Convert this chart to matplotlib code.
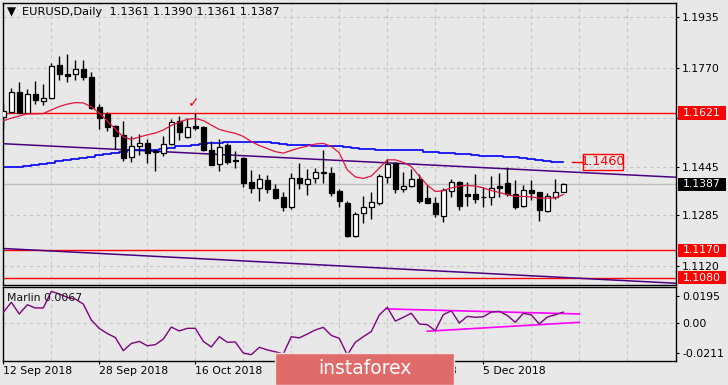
import numpy as np
import matplotlib.pyplot as plt
from matplotlib.patches import Rectangle
from matplotlib import transforms

plt.rcParams['font.family'] = 'DejaVu Sans'

W, H = 728, 385
BG = '#e8e8e8'
FS = 7.8

# EURUSD daily candles, 12 Sep 2018 .. 19 Dec 2018
opens = [1.1608, 1.1625, 1.1689, 1.1622, 1.1683, 1.1661, 1.1671, 1.1778, 1.1749, 1.1748,
         1.1765, 1.1738, 1.1640, 1.1618, 1.1577, 1.1548, 1.1476, 1.1514, 1.1522, 1.1497,
         1.1489, 1.1519, 1.1593, 1.1542, 1.1578, 1.1574, 1.1500, 1.1453, 1.1516, 1.1468,
         1.1474, 1.1395, 1.1374, 1.1401, 1.1370, 1.1344, 1.1311, 1.1406, 1.1387, 1.1406,
         1.1426, 1.1425, 1.1365, 1.1324, 1.1216, 1.1292, 1.1311, 1.1326, 1.1412, 1.1456,
         1.1370, 1.1382, 1.1404, 1.1341, 1.1324, 1.1284, 1.1366, 1.1393, 1.1355, 1.1355,
         1.1345, 1.1344, 1.1382, 1.1391, 1.1355, 1.1317, 1.1368, 1.1362, 1.1300, 1.1346,
         1.1361]
highs = [1.1654, 1.1703, 1.1722, 1.1699, 1.1726, 1.1717, 1.1784, 1.1808, 1.1815, 1.1795,
         1.1795, 1.1755, 1.1649, 1.1625, 1.1581, 1.1595, 1.1546, 1.1551, 1.1535, 1.1503,
         1.1546, 1.1602, 1.1611, 1.1605, 1.1620, 1.1578, 1.1530, 1.1535, 1.1521, 1.1497,
         1.1477, 1.1434, 1.1421, 1.1417, 1.1388, 1.1360, 1.1423, 1.1456, 1.1436, 1.1439,
         1.1499, 1.1445, 1.1370, 1.1332, 1.1295, 1.1348, 1.1362, 1.1421, 1.1469, 1.1461,
         1.1428, 1.1436, 1.1421, 1.1384, 1.1344, 1.1374, 1.1404, 1.1396, 1.1393, 1.1421,
         1.1377, 1.1414, 1.1423, 1.1445, 1.1401, 1.1384, 1.1401, 1.1363, 1.1357, 1.1404,
         1.1390]
lows = [1.1568, 1.1620, 1.1620, 1.1620, 1.1649, 1.1647, 1.1668, 1.1729, 1.1724, 1.1729,
        1.1729, 1.1633, 1.1569, 1.1562, 1.1502, 1.1464, 1.1460, 1.1484, 1.1457, 1.1432,
        1.1479, 1.1516, 1.1532, 1.1539, 1.1565, 1.1495, 1.1451, 1.1432, 1.1455, 1.1440,
        1.1379, 1.1357, 1.1333, 1.1359, 1.1338, 1.1300, 1.1306, 1.1370, 1.1352, 1.1390,
        1.1392, 1.1348, 1.1313, 1.1215, 1.1214, 1.1261, 1.1272, 1.1319, 1.1392, 1.1357,
        1.1363, 1.1379, 1.1326, 1.1324, 1.1278, 1.1264, 1.1346, 1.1302, 1.1316, 1.1324,
        1.1311, 1.1319, 1.1346, 1.1349, 1.1305, 1.1313, 1.1335, 1.1267, 1.1295, 1.1339,
        1.1361]
closes = [1.1627, 1.1689, 1.1622, 1.1683, 1.1664, 1.1669, 1.1775, 1.1748, 1.1743, 1.1765,
          1.1738, 1.1636, 1.1603, 1.1576, 1.1545, 1.1474, 1.1511, 1.1522, 1.1489, 1.1494,
          1.1519, 1.1591, 1.1558, 1.1576, 1.1573, 1.1498, 1.1451, 1.1510, 1.1461, 1.1463,
          1.1390, 1.1374, 1.1403, 1.1370, 1.1343, 1.1311, 1.1406, 1.1390, 1.1405, 1.1426,
          1.1425, 1.1359, 1.1333, 1.1216, 1.1288, 1.1311, 1.1328, 1.1415, 1.1452, 1.1370,
          1.1382, 1.1403, 1.1333, 1.1326, 1.1288, 1.1368, 1.1393, 1.1317, 1.1349, 1.1339,
          1.1344, 1.1374, 1.1376, 1.1354, 1.1313, 1.1368, 1.1359, 1.1302, 1.1349, 1.1361,
          1.1387]

# moving averages drawn on the chart
red_ma = [1.1595, 1.1604, 1.1611, 1.1618, 1.1618, 1.1619, 1.1631, 1.1642, 1.1650, 1.1655,
          1.1654, 1.1641, 1.1621, 1.1595, 1.1568, 1.1542, 1.1534, 1.1542, 1.1549, 1.1555,
          1.1565, 1.1580, 1.1591, 1.1600, 1.1603, 1.1596, 1.1581, 1.1567, 1.1560, 1.1554,
          1.1544, 1.1527, 1.1514, 1.1504, 1.1494, 1.1489, 1.1498, 1.1506, 1.1512, 1.1519,
          1.1521, 1.1511, 1.1490, 1.1434, 1.1411, 1.1406, 1.1414, 1.1440, 1.1467, 1.1467,
          1.1459, 1.1445, 1.1414, 1.1384, 1.1363, 1.1366, 1.1375, 1.1381, 1.1383, 1.1381,
          1.1375, 1.1366, 1.1360, 1.1353, 1.1347, 1.1347, 1.1345, 1.1342, 1.1341, 1.1342,
          1.1353]
blue_ma = [1.1443, 1.1444, 1.1445, 1.1448, 1.1450, 1.1453, 1.1457, 1.1462, 1.1465, 1.1470,
           1.1473, 1.1478, 1.1483, 1.1486, 1.1491, 1.1494, 1.1498, 1.1499, 1.1499, 1.1501,
           1.1504, 1.1507, 1.1511, 1.1513, 1.1517, 1.1518, 1.1521, 1.1523, 1.1525, 1.1526,
           1.1526, 1.1525, 1.1525, 1.1524, 1.1521, 1.1519, 1.1517, 1.1516, 1.1516, 1.1514,
           1.1513, 1.1513, 1.1512, 1.1509, 1.1505, 1.1504, 1.1502, 1.1501, 1.1500, 1.1499,
           1.1499, 1.1499, 1.1498, 1.1494, 1.1492, 1.1491, 1.1488, 1.1486, 1.1485, 1.1483,
           1.1481, 1.1481, 1.1480, 1.1477, 1.1476, 1.1473, 1.1470, 1.1468, 1.1463, 1.1461,
           1.1459]

# Marlin oscillator
marlin = [0.0079, 0.0151, 0.0067, 0.0133, 0.0110, 0.0110, 0.0229, 0.0210, 0.0186, 0.0174,
          0.0138, 0.0024, -0.0037, -0.0073, -0.0102, -0.0196, -0.0145, -0.0130, -0.0161, -0.0153,
          -0.0113, -0.0027, -0.0055, -0.0036, -0.0036, -0.0129, -0.0170, -0.0096, -0.0136, -0.0134,
          -0.0213, -0.0225, -0.0172, -0.0191, -0.0204, -0.0220, -0.0096, -0.0105, -0.0077, -0.0048,
          -0.0029, -0.0087, -0.0108, -0.0227, -0.0136, -0.0096, -0.0059, 0.0060, 0.0115, 0.0016,
          0.0043, 0.0072, -0.0005, -0.0010, -0.0053, 0.0062, 0.0090, 0.0002, 0.0050, 0.0043,
          0.0047, 0.0081, 0.0086, 0.0056, 0.0007, 0.0072, 0.0060, -0.0005, 0.0045, 0.0062,
          0.0080]

# price channel (bar index, price)
trend_bars = [0, 84]
trend_upper = [1.1520, 1.1410]
trend_lower = [1.1176, 1.1062]

levels = [1.1621, 1.1170, 1.1080]
target = 1.1460

# Marlin channel
marlin_up_bars = [48, 72]
marlin_up = [0.0103, 0.0067]
marlin_lo_bars = [53, 72]
marlin_lo = [-0.0057, 0.0007]

price_ticks = [1.1935, 1.1770, 1.1605, 1.1445, 1.1285, 1.1120]
price_labels = ['1.1935', '1.1770', '', '1.1445', '1.1285', '1.1120']
marlin_ticks = [0.0195, 0.0, -0.0211]
marlin_labels = ['0.0195', '0.00', '-0.0211']
date_bars = [0, 12, 24, 36, 48, 60]
date_labels = ['12 Sep 2018', '28 Sep 2018', '16 Oct 2018', '1 Nov 2018', '19 Nov 2018', '5 Dec 2018']


def px_rect(x0, y0, x1, y1):
    return [x0 / W, 1 - y1 / H, (x1 - x0) / W, (y1 - y0) / H]


fig = plt.figure(figsize=(W / 100, H / 100), dpi=100, facecolor=BG)
ax = fig.add_axes(px_rect(2.5, 2.5, 675.7, 284.5), facecolor=BG)
axm = fig.add_axes(px_rect(2.5, 286.5, 675.7, 360.7), facecolor=BG)

for a in (ax, axm):
    for s in a.spines.values():
        s.set_color('black')
        s.set_linewidth(1.0)
    a.set_xlim(-0.1, 84.05)
    a.yaxis.tick_right()
    a.tick_params(axis='y', direction='out', length=2.5, width=0.8, pad=2.2,
                  labelsize=FS, colors='black')
    a.set_axisbelow(True)

grid_kw = dict(color='#c6c6c6', linestyle=(0, (3, 3)), linewidth=0.8)

# ---- main price panel
ax.set_ylim(1.10578, 1.19836)
ax.set_yticks(price_ticks, price_labels)
ax.set_xticks(np.arange(6, 84, 6))
ax.tick_params(axis='x', length=0, labelbottom=False)
ax.grid(True, **grid_kw)

x = np.arange(len(opens))
o = np.array(opens)
h = np.array(highs)
l = np.array(lows)
c = np.array(closes)

ax.axhline(c[-1], color='#bdbdbd', lw=1.0, zorder=1)
for lv in levels:
    ax.axhline(lv, color='#ff0000', lw=1.0, zorder=2)
ax.axline((trend_bars[0], trend_upper[0]), (trend_bars[1], trend_upper[1]),
          color='#4b0082', lw=1.1, zorder=2)
ax.axline((trend_bars[0], trend_lower[0]), (trend_bars[1], trend_lower[1]),
          color='#4b0082', lw=1.1, zorder=2)
ax.plot(x, blue_ma, color='#0000ff', lw=1.2, drawstyle='steps-mid', zorder=2)

ax.vlines(x, l, h, color='black', lw=1.0, zorder=3)
up = c >= o
ax.bar(x, np.abs(c - o), bottom=np.minimum(o, c), width=0.62,
       color=np.where(up, 'white', 'black'), edgecolor='black', linewidth=0.9, zorder=4)
ax.plot(x, red_ma, color='#e0143c', lw=0.9, zorder=5)

# target box
ax.plot([71.05, 72.4], [target, target], color='#ff0000', lw=1.0, zorder=5)
ax.add_patch(Rectangle((72.4, target - 0.00275), 5.0, 0.0055, fc='none',
                       ec='#ff0000', lw=1.0, zorder=5))
ax.text(74.9, target, f'{target:.4f}', color='#ff0000', fontsize=9.2,
        ha='center', va='center', zorder=6)

# check mark
ax.text(23.8, 1.1652, '\u2713', color='#ff0000', fontsize=10, ha='center',
        va='center', zorder=6)

# title
ax.text(0.0126, 0.966, '\u25bc', transform=ax.transAxes, fontsize=8.5,
        ha='center', va='center', color='black')
ax.text(0.029, 0.966, 'EURUSD,Daily  {:.4f} {:.4f} {:.4f} {:.4f}'.format(o[-1], h[-1], l[-1], c[-1]),
        transform=ax.transAxes, fontsize=8.2, ha='left', va='center', color='black')

# right axis price boxes
bt = transforms.blended_transform_factory(ax.transAxes, ax.transData)
box_h = 13.4 * 0.0003283
for lv, fc in [(levels[0], '#ff0000'), (levels[1], '#ff0000'), (levels[2], '#ff0000'),
               (c[-1], 'black')]:
    ax.add_patch(Rectangle((1.003, lv - box_h / 2), 0.0717, box_h, transform=bt,
                           fc=fc, ec='none', clip_on=False, zorder=10))
    ax.text(1.0098, lv, f'{lv:.4f}', transform=bt, color='white', fontsize=FS,
            ha='left', va='center', clip_on=False, zorder=11)

# ---- Marlin panel
axm.set_ylim(-0.02682, 0.02639)
axm.set_yticks(marlin_ticks, marlin_labels)
axm.set_xticks(date_bars, date_labels)
axm.set_xticks(np.arange(6, 84, 6), minor=True)
axm.tick_params(axis='x', which='major', direction='out', length=2.3, width=0.8,
                pad=1.5, labelsize=FS, colors='black')
axm.tick_params(axis='x', which='minor', length=0)
for lbl in axm.get_xticklabels():
    lbl.set_ha('left')
axm.grid(True, axis='x', which='both', **grid_kw)
axm.axhline(0, **grid_kw, zorder=0)

axm.plot(x, marlin, color='#800080', lw=1.0, zorder=3)
axm.plot(marlin_up_bars, marlin_up, color='#ff00ff', lw=1.2, zorder=2)
axm.plot(marlin_lo_bars, marlin_lo, color='#ff00ff', lw=1.2, zorder=2)
axm.text(0.0071, 0.85, 'Marlin 0.0067', transform=axm.transAxes, fontsize=FS,
         ha='left', va='center', color='#111111')

# watermark
fig.patches.append(Rectangle((275 / W, 0), 179 / W, 32 / H, transform=fig.transFigure,
                             fc='#e06b6b', ec='#f3e4e4', lw=1.0, zorder=5))
fig.text(364.5 / W, 1 - 369 / H, 'instaforex', color='white', fontsize=13.5,
         ha='center', va='center', zorder=6)

fig.savefig('out.png', dpi=100, facecolor=BG)
